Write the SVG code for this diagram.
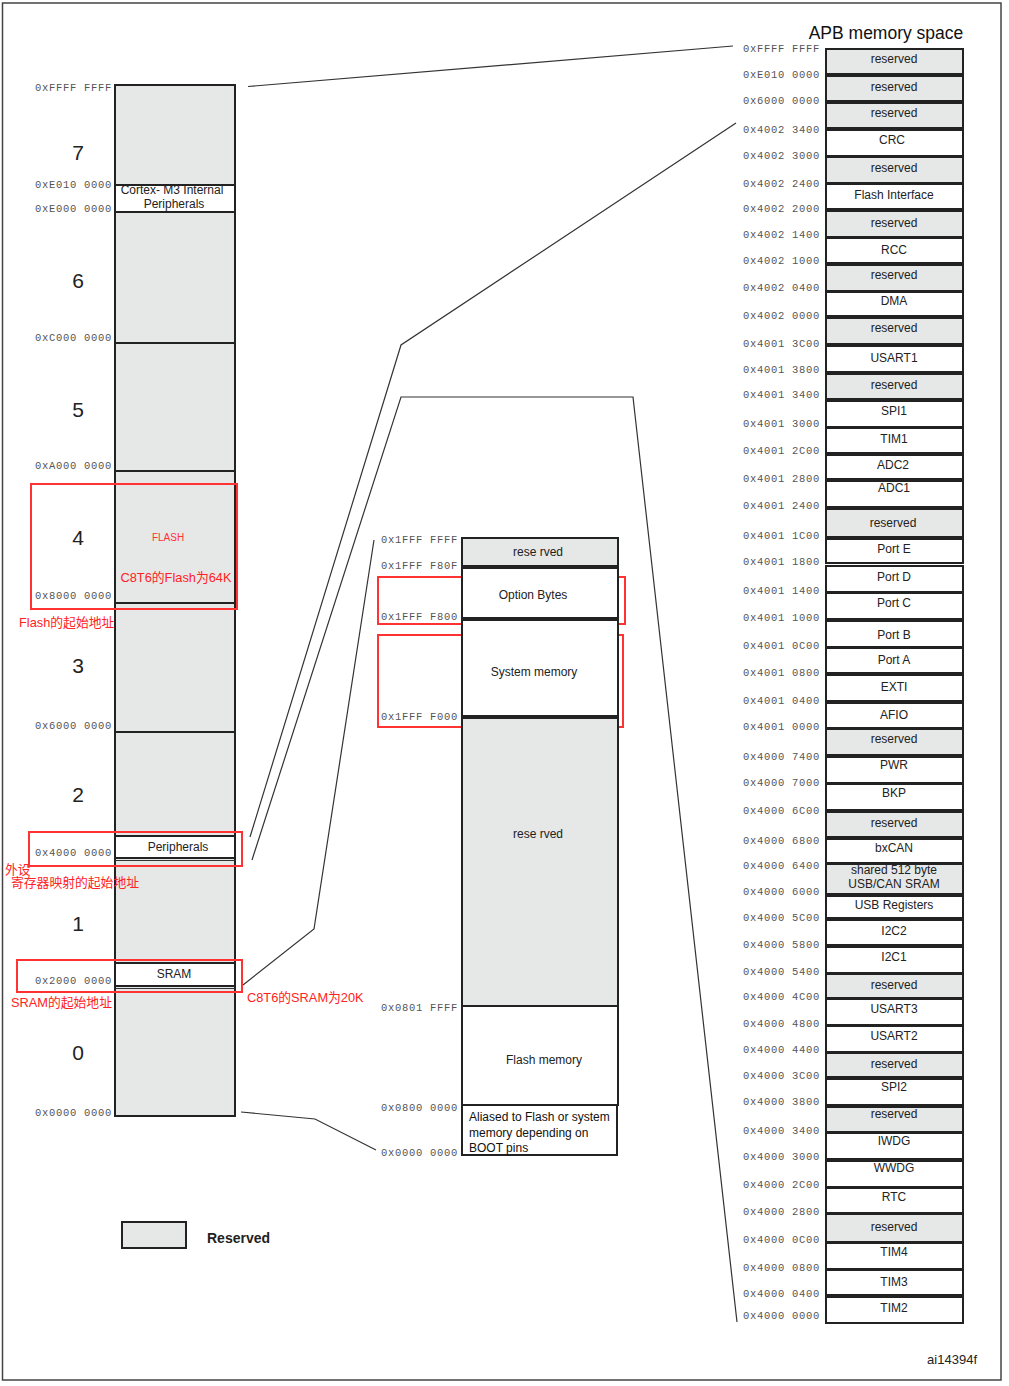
<svg xmlns="http://www.w3.org/2000/svg" width="1009" height="1386" viewBox="0 0 1009 1386">
<style>
.a{font-family:"Liberation Mono",monospace;font-size:10.5px;fill:#555;text-anchor:end;letter-spacing:0.7px}
.n{font-family:"Liberation Sans",Arial,sans-serif;font-size:21px;fill:#222;text-anchor:middle}
.t{font-family:"Liberation Sans",Arial,sans-serif;font-size:12px;fill:#222;text-anchor:middle;dominant-baseline:central}
.tl{font-family:"Liberation Sans",Arial,sans-serif;font-size:12px;fill:#111}
.r{font-family:"Liberation Sans","Noto Sans CJK SC",sans-serif;font-size:12.8px;fill:#f22}
.g{fill:#e6e7e7;stroke:#222;stroke-width:2}
.w{fill:#fff;stroke:#222;stroke-width:2}
.box{fill:none;stroke:#f33;stroke-width:2}
.c{fill:none;stroke:#333;stroke-width:1.2}
.th{stroke:#333;stroke-width:1}
.div{stroke:#222;stroke-width:2}
</style>
<rect x="0" y="0" width="1009" height="1386" fill="#fff"/>
<rect x="2.5" y="3" width="998.5" height="1377" fill="none" stroke="#444" stroke-width="1.5"/>

<g id="connectors">
<polyline class="c" points="248,86.5 733,46"/>
<polyline class="c" points="736,123 401,345 250,837"/>
<polyline class="c" points="252,860 401,397 633,397 737,1322"/>
<polyline class="c" points="243,985 314,929 374,540"/>
<polyline class="c" points="241,1112 315,1119 376,1150"/>
</g>

<g id="left-column">
<rect class="g" x="115" y="85" width="120" height="1031"/>
<line class="div" x1="115" y1="343" x2="235" y2="343"/>
<line class="div" x1="115" y1="471" x2="235" y2="471"/>
<line class="div" x1="115" y1="603" x2="235" y2="603"/>
<line class="div" x1="115" y1="732" x2="235" y2="732"/>
<g id="cortex"><rect class="w" x="115" y="185" width="120" height="27"/>
<text class="t" x="172" y="190">Cortex- M3 Internal</text><text class="t" x="174" y="204">Peripherals</text></g>
<g id="peripherals"><rect class="w" x="115" y="836" width="120" height="22"/>
<line class="th" x1="115" y1="860.5" x2="235" y2="860.5"/>
<text class="t" x="178" y="847">Peripherals</text></g>
<g id="sram"><rect class="w" x="115" y="963" width="120" height="23"/>
<line class="th" x1="115" y1="988.5" x2="235" y2="988.5"/>
<text class="t" x="174" y="974">SRAM</text></g>
<text x="168" y="541" font-family="Liberation Sans,sans-serif" font-size="10" fill="#f33" text-anchor="middle">FLASH</text>
<text class="r" x="176" y="582" text-anchor="middle">C8T6的Flash为64K</text>
</g>

<g id="left-labels">
<text class="a" x="112" y="91">0xFFFF FFFF</text>
<text class="a" x="112" y="188">0xE010 0000</text>
<text class="a" x="112" y="212">0xE000 0000</text>
<text class="a" x="112" y="341">0xC000 0000</text>
<text class="a" x="112" y="469">0xA000 0000</text>
<text class="a" x="112" y="599">0x8000 0000</text>
<text class="a" x="112" y="729">0x6000 0000</text>
<text class="a" x="112" y="856">0x4000 0000</text>
<text class="a" x="112" y="984">0x2000 0000</text>
<text class="a" x="112" y="1116">0x0000 0000</text>
<text class="n" x="78" y="160">7</text>
<text class="n" x="78" y="288">6</text>
<text class="n" x="78" y="417">5</text>
<text class="n" x="78" y="545">4</text>
<text class="n" x="78" y="673">3</text>
<text class="n" x="78" y="802">2</text>
<text class="n" x="78" y="931">1</text>
<text class="n" x="78" y="1060">0</text>
</g>

<g id="annotations">
<rect class="box" x="31" y="484" width="206" height="125"/>
<text class="r" x="19" y="627">Flash的起始地址</text>
<rect class="box" x="29" y="832" width="213" height="34"/>
<text class="r" x="5" y="874">外设</text>
<text class="r" x="11" y="887">寄存器映射的起始地址</text>
<rect class="box" x="17" y="960" width="225" height="32"/>
<text class="r" x="11" y="1007">SRAM的起始地址</text>
<text class="r" x="247" y="1002">C8T6的SRAM为20K</text>
<rect class="box" x="378" y="577" width="247" height="47"/>
<rect class="box" x="378" y="635" width="245" height="92"/>
</g>

<g id="middle-column">
<g id="m-reserved1"><rect class="g" x="462" y="538" width="156" height="28"/><text class="t" x="538" y="552">rese rved</text></g>
<g id="m-option"><rect class="w" x="462" y="568" width="156" height="50"/><text class="t" x="533" y="595">Option Bytes</text></g>
<g id="m-system"><rect class="w" x="462" y="620" width="156" height="96"/><text class="t" x="534" y="672">System memory</text></g>
<g id="m-reserved2"><rect class="g" x="462" y="718" width="156" height="288"/><text class="t" x="538" y="834">rese rved</text></g>
<g id="m-flash"><rect class="w" x="462" y="1006" width="156" height="99"/><text class="t" x="544" y="1060">Flash memory</text></g>
<g id="m-aliased"><rect class="w" x="462" y="1105" width="155" height="50"/>
<text class="tl" x="469" y="1121">Aliased to Flash or system</text>
<text class="tl" x="469" y="1137">memory depending on</text>
<text class="tl" x="469" y="1152">BOOT pins</text></g>
<text class="a" x="458" y="543">0x1FFF FFFF</text>
<text class="a" x="458" y="569">0x1FFF F80F</text>
<text class="a" x="458" y="620">0x1FFF F800</text>
<text class="a" x="458" y="720">0x1FFF F000</text>
<text class="a" x="458" y="1011">0x0801 FFFF</text>
<text class="a" x="458" y="1111">0x0800 0000</text>
<text class="a" x="458" y="1156">0x0000 0000</text>
</g>

<g id="apb-title"><text x="886" y="39" font-family="Liberation Sans,sans-serif" font-size="17.5" fill="#111" text-anchor="middle">APB memory space</text></g>

<g id="right-column">
<g id="r1"><rect class="g" x="826" y="49" width="137" height="25"/><text class="t" x="894" y="59">reserved</text></g>
<g id="r2"><rect class="g" x="826" y="76" width="137" height="25"/><text class="t" x="894" y="87">reserved</text></g>
<g id="r3"><rect class="g" x="826" y="103" width="137" height="25"/><text class="t" x="894" y="113">reserved</text></g>
<g id="r4"><rect class="w" x="826" y="130" width="137" height="26"/><text class="t" x="892" y="140">CRC</text></g>
<g id="r5"><rect class="g" x="826" y="157" width="137" height="26"/><text class="t" x="894" y="168">reserved</text></g>
<g id="r6"><rect class="w" x="826" y="184" width="137" height="25"/><text class="t" x="894" y="195">Flash Interface</text></g>
<g id="r7"><rect class="g" x="826" y="211" width="137" height="26"/><text class="t" x="894" y="223">reserved</text></g>
<g id="r8"><rect class="w" x="826" y="238" width="137" height="25"/><text class="t" x="894" y="250">RCC</text></g>
<g id="r9"><rect class="g" x="826" y="265" width="137" height="26"/><text class="t" x="894" y="275">reserved</text></g>
<g id="r10"><rect class="w" x="826" y="292" width="137" height="24"/><text class="t" x="894" y="301">DMA</text></g>
<g id="r11"><rect class="g" x="826" y="318" width="137" height="26"/><text class="t" x="894" y="328">reserved</text></g>
<g id="r12"><rect class="w" x="826" y="346" width="137" height="26"/><text class="t" x="894" y="358">USART1</text></g>
<g id="r13"><rect class="g" x="826" y="374" width="137" height="25"/><text class="t" x="894" y="385">reserved</text></g>
<g id="r14"><rect class="w" x="826" y="401" width="137" height="26"/><text class="t" x="894" y="411">SPI1</text></g>
<g id="r15"><rect class="w" x="826" y="428" width="137" height="25"/><text class="t" x="894" y="439">TIM1</text></g>
<g id="r16"><rect class="w" x="826" y="455" width="137" height="24"/><text class="t" x="893" y="465">ADC2</text></g>
<g id="r17"><rect class="w" x="826" y="481" width="137" height="26"/><text class="t" x="894" y="488">ADC1</text></g>
<g id="r18"><rect class="g" x="826" y="509" width="137" height="28"/><text class="t" x="893" y="523">reserved</text></g>
<g id="r19"><rect class="w" x="826" y="539" width="137" height="24"/><text class="t" x="894" y="549">Port E</text></g>
<g id="r20"><rect class="w" x="826" y="566" width="137" height="26"/><text class="t" x="894" y="577">Port D</text></g>
<g id="r21"><rect class="w" x="826" y="593" width="137" height="26"/><text class="t" x="894" y="603">Port C</text></g>
<g id="r22"><rect class="w" x="826" y="621" width="137" height="26"/><text class="t" x="894" y="635">Port B</text></g>
<g id="r23"><rect class="w" x="826" y="648" width="137" height="25"/><text class="t" x="894" y="660">Port A</text></g>
<g id="r24"><rect class="w" x="826" y="675" width="137" height="26"/><text class="t" x="894" y="687">EXTI</text></g>
<g id="r25"><rect class="w" x="826" y="703" width="137" height="25"/><text class="t" x="894" y="715">AFIO</text></g>
<g id="r26"><rect class="g" x="826" y="729" width="137" height="26"/><text class="t" x="894" y="739">reserved</text></g>
<g id="r27"><rect class="w" x="826" y="757" width="137" height="26"/><text class="t" x="894" y="765">PWR</text></g>
<g id="r28"><rect class="w" x="826" y="784" width="137" height="26"/><text class="t" x="894" y="793">BKP</text></g>
<g id="r29"><rect class="g" x="826" y="812" width="137" height="25"/><text class="t" x="894" y="823">reserved</text></g>
<g id="r30"><rect class="w" x="826" y="839" width="137" height="24"/><text class="t" x="894" y="848">bxCAN</text></g>
<g id="r31"><rect class="g" x="826" y="864" width="137" height="30"/><text class="t" x="894" y="870">shared 512 byte</text><text class="t" x="894" y="884">USB/CAN SRAM</text></g>
<g id="r32"><rect class="w" x="826" y="896" width="137" height="22"/><text class="t" x="894" y="905">USB Registers</text></g>
<g id="r33"><rect class="w" x="826" y="920" width="137" height="25"/><text class="t" x="894" y="931">I2C2</text></g>
<g id="r34"><rect class="w" x="826" y="947" width="137" height="26"/><text class="t" x="894" y="957">I2C1</text></g>
<g id="r35"><rect class="g" x="826" y="974" width="137" height="24"/><text class="t" x="894" y="985">reserved</text></g>
<g id="r36"><rect class="w" x="826" y="999" width="137" height="26"/><text class="t" x="894" y="1009">USART3</text></g>
<g id="r37"><rect class="w" x="826" y="1026" width="137" height="26"/><text class="t" x="894" y="1036">USART2</text></g>
<g id="r38"><rect class="g" x="826" y="1053" width="137" height="24"/><text class="t" x="894" y="1064">reserved</text></g>
<g id="r39"><rect class="w" x="826" y="1079" width="137" height="26"/><text class="t" x="894" y="1087">SPI2</text></g>
<g id="r40"><rect class="g" x="826" y="1107" width="137" height="25"/><text class="t" x="894" y="1114">reserved</text></g>
<g id="r41"><rect class="w" x="826" y="1133" width="137" height="26"/><text class="t" x="894" y="1141">IWDG</text></g>
<g id="r42"><rect class="w" x="826" y="1161" width="137" height="26"/><text class="t" x="894" y="1168">WWDG</text></g>
<g id="r43"><rect class="w" x="826" y="1188" width="137" height="25"/><text class="t" x="894" y="1197">RTC</text></g>
<g id="r44"><rect class="g" x="826" y="1214" width="137" height="28"/><text class="t" x="894" y="1227">reserved</text></g>
<g id="r45"><rect class="w" x="826" y="1243" width="137" height="26"/><text class="t" x="894" y="1252">TIM4</text></g>
<g id="r46"><rect class="w" x="826" y="1270" width="137" height="25"/><text class="t" x="894" y="1282">TIM3</text></g>
<g id="r47"><rect class="w" x="826" y="1297" width="137" height="26"/><text class="t" x="894" y="1308">TIM2</text></g>
</g>

<g id="right-labels">
<text class="a" x="820" y="52">0xFFFF FFFF</text>
<text class="a" x="820" y="78">0xE010 0000</text>
<text class="a" x="820" y="104">0x6000 0000</text>
<text class="a" x="820" y="133">0x4002 3400</text>
<text class="a" x="820" y="159">0x4002 3000</text>
<text class="a" x="820" y="187">0x4002 2400</text>
<text class="a" x="820" y="212">0x4002 2000</text>
<text class="a" x="820" y="238">0x4002 1400</text>
<text class="a" x="820" y="264">0x4002 1000</text>
<text class="a" x="820" y="291">0x4002 0400</text>
<text class="a" x="820" y="319">0x4002 0000</text>
<text class="a" x="820" y="347">0x4001 3C00</text>
<text class="a" x="820" y="373">0x4001 3800</text>
<text class="a" x="820" y="398">0x4001 3400</text>
<text class="a" x="820" y="427">0x4001 3000</text>
<text class="a" x="820" y="454">0x4001 2C00</text>
<text class="a" x="820" y="482">0x4001 2800</text>
<text class="a" x="820" y="509">0x4001 2400</text>
<text class="a" x="820" y="539">0x4001 1C00</text>
<text class="a" x="820" y="565">0x4001 1800</text>
<text class="a" x="820" y="594">0x4001 1400</text>
<text class="a" x="820" y="621">0x4001 1000</text>
<text class="a" x="820" y="649">0x4001 0C00</text>
<text class="a" x="820" y="676">0x4001 0800</text>
<text class="a" x="820" y="704">0x4001 0400</text>
<text class="a" x="820" y="730">0x4001 0000</text>
<text class="a" x="820" y="760">0x4000 7400</text>
<text class="a" x="820" y="786">0x4000 7000</text>
<text class="a" x="820" y="814">0x4000 6C00</text>
<text class="a" x="820" y="844">0x4000 6800</text>
<text class="a" x="820" y="869">0x4000 6400</text>
<text class="a" x="820" y="895">0x4000 6000</text>
<text class="a" x="820" y="921">0x4000 5C00</text>
<text class="a" x="820" y="948">0x4000 5800</text>
<text class="a" x="820" y="975">0x4000 5400</text>
<text class="a" x="820" y="1000">0x4000 4C00</text>
<text class="a" x="820" y="1027">0x4000 4800</text>
<text class="a" x="820" y="1053">0x4000 4400</text>
<text class="a" x="820" y="1079">0x4000 3C00</text>
<text class="a" x="820" y="1105">0x4000 3800</text>
<text class="a" x="820" y="1134">0x4000 3400</text>
<text class="a" x="820" y="1160">0x4000 3000</text>
<text class="a" x="820" y="1188">0x4000 2C00</text>
<text class="a" x="820" y="1215">0x4000 2800</text>
<text class="a" x="820" y="1243">0x4000 0C00</text>
<text class="a" x="820" y="1271">0x4000 0800</text>
<text class="a" x="820" y="1297">0x4000 0400</text>
<text class="a" x="820" y="1319">0x4000 0000</text>
</g>

<g id="legend">
<rect class="g" x="122" y="1222" width="64" height="26"/>
<text x="207" y="1243" font-family="Liberation Sans,sans-serif" font-size="14" font-weight="bold" fill="#222">Reserved</text>
</g>
<text x="977" y="1364" font-family="Liberation Sans,sans-serif" font-size="13" fill="#222" text-anchor="end">ai14394f</text>
</svg>
